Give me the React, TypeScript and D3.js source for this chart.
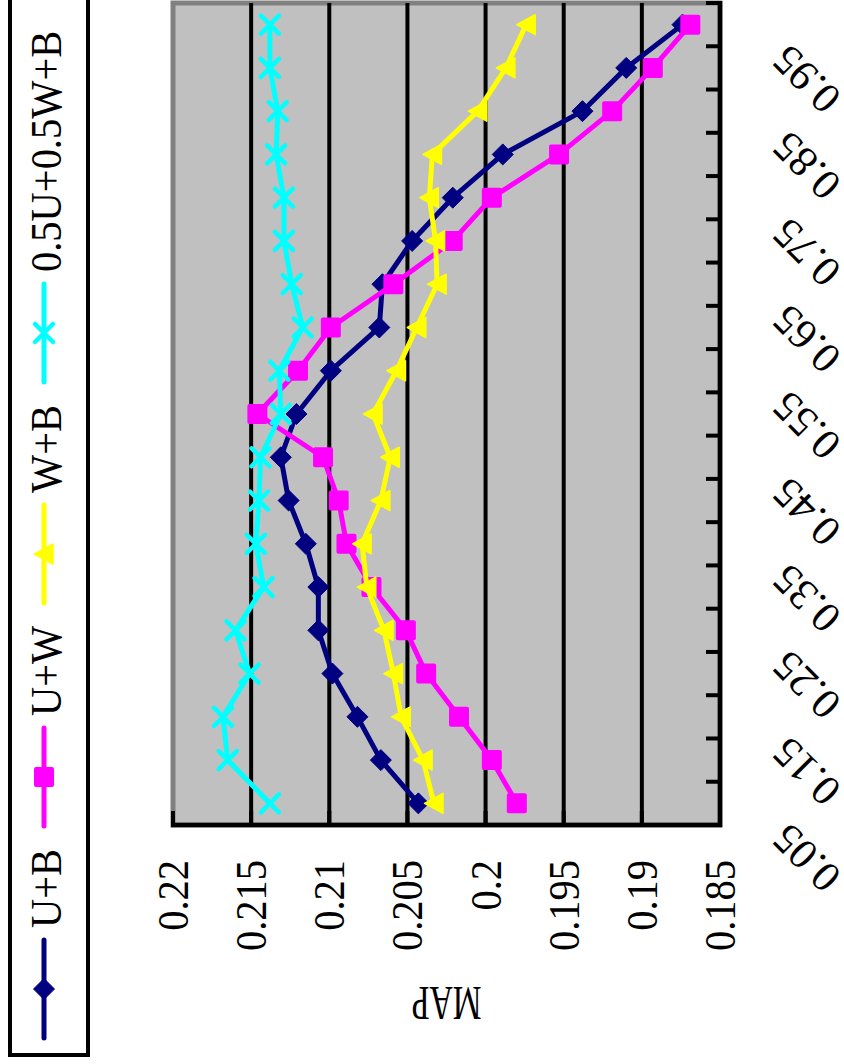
import React from "react";
import * as d3 from "d3";

// Category axis (threshold values) and MAP for each configuration
const categories = [
  "0.05", "0.1", "0.15", "0.2", "0.25", "0.3", "0.35", "0.4", "0.45", "0.5",
  "0.55", "0.6", "0.65", "0.7", "0.75", "0.8", "0.85", "0.9", "0.95",
];
const ubMap = [
  0.2043, 0.2067, 0.2082, 0.2098, 0.2107, 0.2107, 0.2115, 0.2126, 0.2131, 0.2121,
  0.2099, 0.2068, 0.2066, 0.2047, 0.2021, 0.1989, 0.1938, 0.191, 0.1874,
];
const uwMap = [
  0.198, 0.1996, 0.2017, 0.2038, 0.2051, 0.2073, 0.2089, 0.2094, 0.2104, 0.2146,
  0.212, 0.2099, 0.2059, 0.2021, 0.1996, 0.1953, 0.1919, 0.1893, 0.1869,
];
const wbMap = [
  0.2033, 0.204, 0.2054, 0.2059, 0.2065, 0.2076, 0.2079, 0.2067, 0.2061, 0.2072,
  0.2057, 0.2044, 0.2031, 0.2032, 0.2036, 0.2034, 0.2005, 0.1987, 0.1974,
];
const mixMap = [
  0.2138, 0.2165, 0.2168, 0.2151, 0.216, 0.2142, 0.2147, 0.2145, 0.2144, 0.2131,
  0.2132, 0.2117, 0.2124, 0.2129, 0.2129, 0.2134, 0.2133, 0.2138, 0.2138,
];
const seriesLabels = ["U+B", "U+W", "W+B", "0.5U+0.5W+B"];
const valueTicks = [0.22, 0.215, 0.21, 0.205, 0.2, 0.195, 0.19, 0.185];
const labeledCategories = categories.filter((_, i) => i % 2 === 0);

type MarkerKind = "diamond" | "square" | "triangle" | "cross";

// Chart is laid out in its own (unrotated) frame, then turned a quarter turn
const FRAME_W = 1064;
const plot = { left: 239, right: 1061, top: 173, bottom: 720 };
const FONT = "'Liberation Serif', 'Times New Roman', Times, serif";

function Marker({ kind, cx, cy, color }: { kind: MarkerKind; cx: number; cy: number; color: string }) {
  switch (kind) {
    case "diamond":
      return (
        <path
          d={`M${cx},${cy - 10.5}L${cx + 10.5},${cy}L${cx},${cy + 10.5}L${cx - 10.5},${cy}Z`}
          fill={color}
          stroke={color}
          strokeWidth={1}
          strokeLinejoin="round"
        />
      );
    case "square":
      return <rect x={cx - 10} y={cy - 10} width={20} height={20} rx={2} fill={color} />;
    case "triangle":
      return (
        <path
          d={`M${cx},${cy - 9.5}L${cx + 10},${cy + 9}L${cx - 10},${cy + 9}Z`}
          fill={color}
          stroke={color}
          strokeWidth={1.5}
          strokeLinejoin="round"
        />
      );
    case "cross":
      return (
        <path
          d={`M${cx - 9},${cy - 9}L${cx + 9},${cy + 9}M${cx - 9},${cy + 9}L${cx + 9},${cy - 9}`}
          stroke={color}
          strokeWidth={4.5}
          strokeLinecap="round"
          fill="none"
        />
      );
  }
  return null;
}

export default function App() {
  const x = d3.scalePoint<string>().domain(categories).range([plot.left, plot.right]).padding(0.5);
  const y = d3.scaleLinear().domain([0.185, 0.22]).range([plot.bottom, plot.top]);
  const step = x.step();

  const series: { label: string; values: number[]; color: string; kind: MarkerKind }[] = [
    { label: seriesLabels[0], values: ubMap, color: "#000080", kind: "diamond" },
    { label: seriesLabels[1], values: uwMap, color: "#FF00FF", kind: "square" },
    { label: seriesLabels[2], values: wbMap, color: "#FFFF00", kind: "triangle" },
    { label: seriesLabels[3], values: mixMap, color: "#00FFFF", kind: "cross" },
  ];

  const line = d3
    .line<number>()
    .x((_, i) => x(categories[i]) as number)
    .y((d) => y(d));

  const boundaries = d3.range(categories.length + 1).map((k) => plot.left + k * step);
  const gridTicks = valueTicks.filter((t) => t !== 0.22 && t !== 0.185);

  const legendStarts = [26, 238, 461, 682];
  const legendLine = 98;
  const legendY = 44;

  return (
    <svg
      width={844}
      height={FRAME_W}
      style={{ position: "absolute", left: 0, top: 0, background: "#fff" }}
      fontFamily={FONT}
    >
      <g transform={`translate(0,${FRAME_W}) rotate(-90)`}>
        {/* legend */}
        <rect x={9} y={10} width={1100} height={78} fill="#fff" stroke="#000" strokeWidth={4} />
        {series.map((s, i) => {
          const x0 = legendStarts[i];
          return (
            <g key={s.label}>
              <line x1={x0} x2={x0 + legendLine} y1={legendY} y2={legendY} stroke={s.color} strokeWidth={5} strokeLinecap="round" />
              <Marker kind={s.kind} cx={x0 + legendLine / 2} cy={legendY} color={s.color} />
              <text transform={`translate(${x0 + legendLine + 12},61) scale(0.92,1)`} fontSize={44} fill="#000">
                {s.label}
              </text>
            </g>
          );
        })}

        {/* plot area */}
        <rect
          x={plot.left}
          y={plot.top}
          width={plot.right - plot.left}
          height={plot.bottom - plot.top}
          fill="#C0C0C0"
          stroke="#808080"
          strokeWidth={5}
        />
        {gridTicks.map((t) => (
          <line key={t} x1={plot.left} x2={plot.right} y1={y(t)} y2={y(t)} stroke="#000" strokeWidth={4} />
        ))}
        {/* value axis */}
        <line x1={plot.left} x2={plot.left} y1={plot.top - 2} y2={plot.bottom + 2} stroke="#000" strokeWidth={4.5} />
        {valueTicks.map((t) => (
          <line key={`vt${t}`} x1={plot.left} x2={plot.left + 14} y1={y(t)} y2={y(t)} stroke="#000" strokeWidth={4} />
        ))}
        {/* category axis */}
        <line x1={plot.left - 2} x2={plot.right + 2} y1={plot.bottom} y2={plot.bottom} stroke="#000" strokeWidth={4.5} />
        {boundaries.map((b, k) => (
          <line key={`ct${k}`} x1={b} x2={b} y1={plot.bottom} y2={plot.bottom - 14} stroke="#000" strokeWidth={4} />
        ))}

        {/* series */}
        {series.map((s) => (
          <g key={s.label}>
            <path d={line(s.values) || ""} fill="none" stroke={s.color} strokeWidth={5} strokeLinejoin="round" />
            {s.values.map((v, i) => (
              <Marker key={i} kind={s.kind} cx={x(categories[i]) as number} cy={y(v)} color={s.color} />
            ))}
          </g>
        ))}

        {/* value tick labels */}
        {valueTicks.map((t) => (
          <text key={`vl${t}`} transform={`translate(204,${y(t) + 15}) scale(0.92,1)`} textAnchor="end" fontSize={44} fill="#000">
            {String(t)}
          </text>
        ))}

        {/* category labels */}
        {labeledCategories.map((c) => (
          <text
            key={`cl${c}`}
            transform={`translate(${(x(c) as number) - 18},790) rotate(-45)`}
            textAnchor="end"
            fontSize={43}
            fill="#000"
          >
            {c}
          </text>
        ))}

        {/* axis title */}
        <text
          transform={`translate(77,${(plot.top + plot.bottom) / 2}) rotate(-90)`}
          textAnchor="middle"
          fontSize={48}
          textLength={70}
          lengthAdjust="spacingAndGlyphs"
          fill="#000"
        >
          MAP
        </text>
      </g>
    </svg>
  );
}
